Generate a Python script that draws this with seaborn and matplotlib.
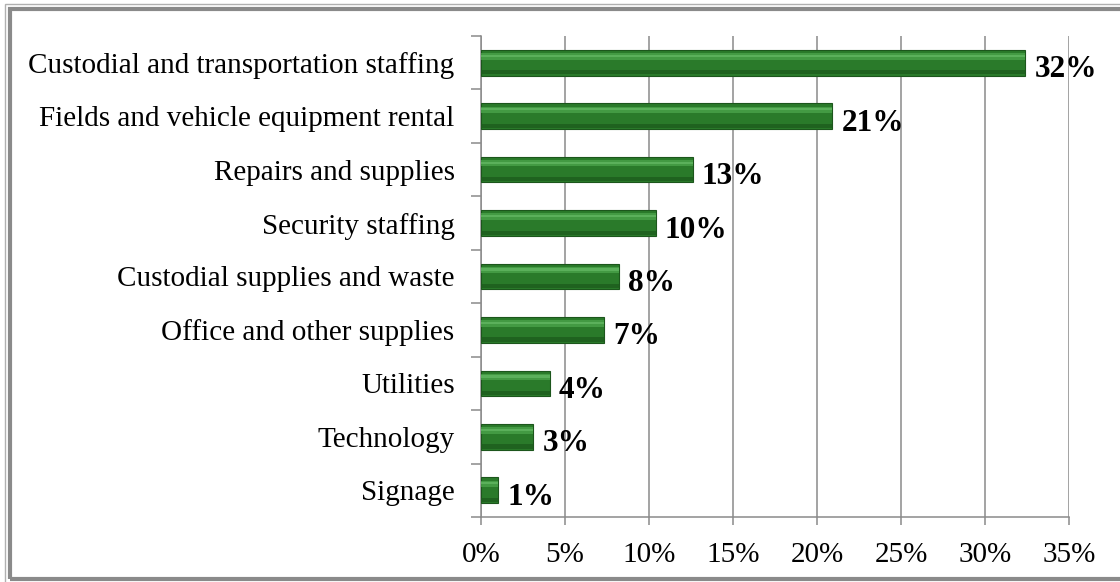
import matplotlib
matplotlib.use("Agg")
import numpy as np
import pandas as pd
import seaborn as sns
import matplotlib.pyplot as plt
from matplotlib.patches import Rectangle
from matplotlib.ticker import FixedLocator, FuncFormatter

categories = [
    "Custodial and transportation staffing",
    "Fields and vehicle equipment rental",
    "Repairs and supplies",
    "Security staffing",
    "Custodial supplies and waste",
    "Office and other supplies",
    "Utilities",
    "Technology",
    "Signage",
]
shares = [32.4, 20.9, 12.6, 10.4, 8.2, 7.3, 4.1, 3.1, 1.0]
labels = ["32%", "21%", "13%", "10%", "8%", "7%", "4%", "3%", "1%"]
x_ticks = [0, 5, 10, 15, 20, 25, 30, 35]

W, H = 1120, 582
sns.set_theme(style="white")
plt.rcParams["font.family"] = ["Liberation Serif", "DejaVu Serif"]

fig = plt.figure(figsize=(W / 100, H / 100), dpi=100)
ax = fig.add_axes([481 / W, 65 / H, (1069 - 481) / W, (546 - 65) / H])

df = pd.DataFrame({"category": categories, "share": shares})
sns.barplot(data=df, x="share", y="category", orient="h", color="#2a7a2a",
            saturation=1, width=0.48, edgecolor="#1c561c", linewidth=0.8, ax=ax, zorder=3)

# soft bevel: lighter band in the upper part, darker band at the bottom
ypos = np.arange(len(categories))
ax.barh(ypos - 0.12, shares, height=0.12, color="#4fa94f", alpha=0.7, linewidth=0, zorder=4)
ax.barh(ypos - 0.13, shares, height=0.04, color="#6cc06c", alpha=0.6, linewidth=0, zorder=4)
ax.barh(ypos + 0.18, shares, height=0.08, color="#1d5c1d", alpha=0.8, linewidth=0, zorder=4)

ax.set_xlim(0, 35)
ax.set_ylim(len(categories) - 0.5, -0.5)
ax.set_xlabel("")
ax.set_ylabel("")

ax.xaxis.set_major_locator(FixedLocator(x_ticks))
ax.xaxis.set_major_formatter(FuncFormatter(lambda v, p: f"{v:.0f}%"))
ax.grid(axis="x", color="#8a8a8a", linewidth=1.1, zorder=0)
ax.set_axisbelow(True)

ax.yaxis.set_minor_locator(FixedLocator(np.arange(-0.5, len(categories), 1.0)))
ax.tick_params(axis="y", which="major", length=0, pad=19, labelsize=21, labelcolor="black")
ax.tick_params(axis="y", which="minor", left=True, length=7, width=1.1, color="#8a8a8a")
ax.tick_params(axis="x", which="major", bottom=True, length=6, width=1.1, color="#8a8a8a",
               pad=12, labelsize=21, labelcolor="black")

for side in ["top", "right"]:
    ax.spines[side].set_visible(False)
for side in ["left", "bottom"]:
    ax.spines[side].set_color("#8a8a8a")
    ax.spines[side].set_linewidth(1.1)

for y, v, lab in zip(ypos, shares, labels):
    ax.text(v + 0.55, y + 0.13, lab, ha="left", va="center", fontsize=22.5,
            fontweight="bold", color="black", zorder=5)

# outer frame
fig.patches.append(Rectangle((5 / W, -0.05), 1.2, (H - 4) / H + 0.05, transform=fig.transFigure,
                             fill=False, edgecolor="#b0b0b0", linewidth=1.0))
fig.patches.append(Rectangle((10 / W, 3 / H), 1.2, (H - 12) / H, transform=fig.transFigure,
                             fill=False, edgecolor="#8a8a8a", linewidth=3.0))

fig.savefig("out.png", dpi=100)
